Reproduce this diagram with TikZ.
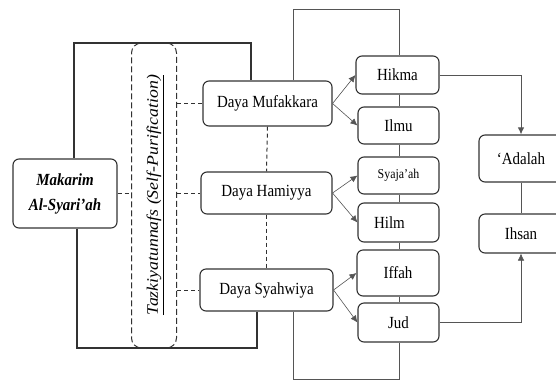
\documentclass[tikz,border=0pt]{standalone}
\usepackage{fontspec}
\setmainfont[FakeStretch=0.88]{Liberation Serif}
\usepackage{graphicx}
\usetikzlibrary{arrows.meta}

\begin{document}
\begin{tikzpicture}[x=1pt, y=-1pt, thick,
	box/.style={draw=boxline, rounded corners=6pt, line width=1.1pt, align=center, inner sep=0pt, font=\fontsize{17}{19}\selectfont},
	frame/.style={draw=boxline, line width=1.4pt},
	link/.style={draw=linkgray, line width=0.6pt},
	dots/.style={draw=boxline, dashed, line width=1pt, dash pattern=on 4pt off 3pt},
	tip/.style={link, -{Latex[length=7pt, width=6.5pt]}}]
	\definecolor{boxline}{RGB}{50, 50, 50};
\definecolor{linkgray}{RGB}{85, 85, 85};

% \drawbox#name#x#y#width#height#text
\def\drawbox#1#2#3#4#5#6{
	\node[box, minimum width=#4pt, minimum height=#5pt] (#1) at (#2, #3) {#6};
}
	
	\useasboundingbox (0, 0) rectangle (556, 381);
	
	% left side
	\drawbox{mak}{65}{193.5}{104}{69}{\bfseries\itshape Makarim\\[6pt]\bfseries\itshape Al-Syari’ah}
	\node[draw=boxline, dashed, line width=1pt, dash pattern=on 6pt off 3pt, rounded corners=10pt, minimum width=45pt, minimum height=305pt] (tazk) at (154, 195.5) {};
	\node[rotate=90, inner sep=0pt, font=\fontsize{16}{18}\selectfont\itshape] (tazktext) at (155, 195) {\scalebox{1.26}[1]{\underline{Tazkiyatunnafs (Self-Purification)}}};
	
	% daya
	\drawbox{muf}{267.5}{103.5}{129}{45}{Daya Mufakkara}
	\drawbox{ham}{266.5}{193}{131}{42}{Daya Hamiyya}
	\drawbox{syah}{266.5}{290}{133}{42}{Daya Syahwiya}
	
	% virtues
	\drawbox{hik}{397.5}{75}{83}{38}{Hikma}
	\drawbox{ilm}{398.5}{125.5}{81}{37}{Ilmu}
	\drawbox{sya}{398.5}{175.5}{81}{37}{\fontsize{13.5}{15}\selectfont Syaja'ah}
	\drawbox{hil}{398.5}{222.5}{81}{39}{Hilm\hspace{18pt}}
	\drawbox{iff}{398}{273}{82}{46}{Iffah}
	\drawbox{jud}{398.5}{322.5}{81}{39}{Jud}
	\drawbox{ada}{521}{158.5}{84}{47}{‘Adalah}
	\drawbox{ihs}{521}{233.5}{84}{39}{Ihsan}
	
	% outer frame
	\coordinate (ftl) at (74, 43);
	\coordinate (ftr) at (251, 43);
	\coordinate (fbl) at (77, 348);
	\coordinate (fbr) at (257, 348);
	\draw[frame] (ftl |- mak.north) -- (ftl) -- (ftr) -- (ftr |- muf.north);
	\draw[frame] (fbl |- mak.south) -- (fbl) -- (fbr) -- (fbr |- syah.south);
	
	% thin loop through the virtues
	\coordinate (gtl) at (293, 9);
	\coordinate (gtr) at (399.5, 9);
	\coordinate (gbl) at (293, 379);
	\coordinate (gbr) at (399.5, 379);
	\draw[link] (gtl |- muf.north) -- (gtl) -- (gtr) -- (gtr |- hik.north);
	\draw[link] (gbl |- syah.south) -- (gbl) -- (gbr) -- (gbr |- jud.south);
	\foreach \a/\b in {hik/ilm, ilm/sya, sya/hil, hil/iff, iff/jud}
		\draw[link] (\a.south -| gtr) -- (\b.north -| gtr);
	
	% dashed links
	\draw[dots] (mak.east) -- (mak.east -| tazk.west);
	\foreach \n in {muf, ham, syah}
		\draw[dots] (tazk.east |- \n.west) -- (\n.west);
	\draw[dots] (muf.south) -- (ham.north);
	\draw[dots] (ham.south) -- (syah.north);
	
	% arrows
	\foreach \a/\b in {muf/hik, muf/ilm, ham/sya, ham/hil, syah/iff, syah/jud}
		\draw[tip] (\a.east) -- (\b.west);
	\draw[tip, line width=1pt] (hik.east) -| (ada.north);
	\draw[tip] (jud.east) -| (ihs.south);
	\draw[link] (ada.south) -- (ihs.north);
\end{tikzpicture}
\end{document}
